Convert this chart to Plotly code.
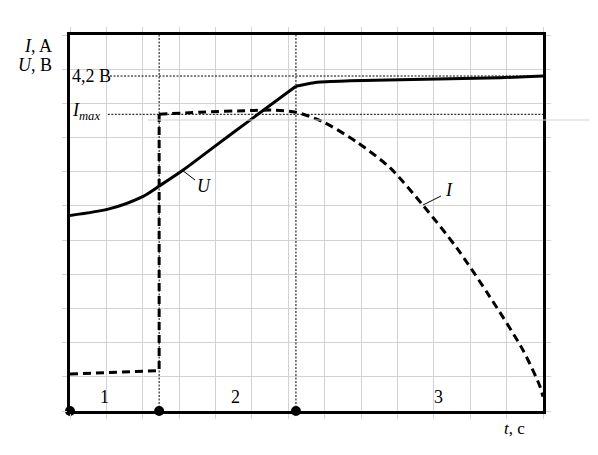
import plotly.graph_objects as go

# ---- data ----
t_U = [0.0, 1.10, 2.01, 2.45, 3.11, 3.85, 4.95, 6.21]
U_a = [5.72, 5.92, 6.28, 6.58, 7.05, 7.64, 8.51, 9.50]
t_U2 = [6.21, 6.79, 7.70, 9.07, 10.45, 11.82, 13.0]
U_b = [9.50, 9.62, 9.66, 9.69, 9.72, 9.75, 9.80]

t_I1 = [0.0, 2.45, 2.45]
I_1 = [1.08, 1.18, 8.68]
t_I2 = [2.45, 3.57, 4.95, 5.64, 6.21, 6.95, 7.88, 8.80, 9.70, 10.63, 11.54, 12.45, 12.92, 13.0]
I_2 = [8.68, 8.74, 8.79, 8.80, 8.74, 8.46, 7.87, 7.11, 6.02, 4.77, 3.34, 1.78, 0.71, 0.42]

t_events = [0.0, 2.45, 6.21]
phase_labels = ["1", "2", "3"]
phase_x = [0.96, 4.56, 10.14]
U_full = 9.80
I_max = 8.68

# ---- layout geometry (screen coordinates; page body adds an 8px offset) ----
W, H = 598, 455
OFF = 8
X0, X1 = 70, 543      # plot area left/right on screen
Y0, Y1 = 35, 411      # plot area top/bottom on screen
PW, PH = X1 - X0, Y1 - Y0
L, T = X0 - OFF, Y0 - OFF
R, B = W - L - PW, H - T - PH

def px(x):
    return (x - X0) / PW

def py(y):
    return (Y1 - y) / PH

SERIF = "Liberation Serif, Times New Roman, serif"
BLACK = "#000000"
GRID = "#d2d2d2"
DOT = "2px,1.5px"

fig = go.Figure()

fig.add_trace(go.Scatter(x=t_U, y=U_a, mode="lines", line=dict(color=BLACK, width=3, shape="spline", smoothing=0.8), hoverinfo="skip"))
fig.add_trace(go.Scatter(x=t_U2, y=U_b, mode="lines", line=dict(color=BLACK, width=3, shape="spline", smoothing=0.6), hoverinfo="skip"))
fig.add_trace(go.Scatter(x=t_I1, y=I_1, mode="lines", line=dict(color=BLACK, width=3, dash="8px,5px"), hoverinfo="skip"))
fig.add_trace(go.Scatter(x=t_I2, y=I_2, mode="lines", line=dict(color=BLACK, width=3, dash="8px,5px", shape="spline", smoothing=0.8), hoverinfo="skip"))
fig.add_trace(go.Scatter(x=t_events, y=[0] * len(t_events), mode="markers", marker=dict(color=BLACK, size=10), cliponaxis=False, hoverinfo="skip"))

shapes = []
for te in t_events[1:]:
    shapes.append(dict(type="line", xref="x", yref="y", x0=te, x1=te, y0=0, y1=11,
                       line=dict(color=BLACK, width=1, dash=DOT)))
shapes.append(dict(type="line", xref="x", yref="y", x0=1.10, x1=13, y0=U_full, y1=U_full,
                   line=dict(color=BLACK, width=1, dash=DOT)))
shapes.append(dict(type="line", xref="x", yref="y", x0=1.04, x1=13, y0=I_max, y1=I_max,
                   line=dict(color=BLACK, width=1, dash=DOT)))
# stray gray line in the reference
shapes.append(dict(type="line", xref="paper", yref="paper", x0=px(148), x1=px(600), y0=py(120), y1=py(120),
                   line=dict(color=GRID, width=1)))
# leader lines
shapes.append(dict(type="line", xref="paper", yref="paper", x0=px(182), x1=px(195), y0=py(170), y1=py(180),
                   line=dict(color=BLACK, width=1)))
shapes.append(dict(type="line", xref="paper", yref="paper", x0=px(423), x1=px(441), y0=py(205), y1=py(196),
                   line=dict(color=BLACK, width=1)))

ann = []
def txt(x, y, s, xanchor="center", size=18):
    ann.append(dict(xref="paper", yref="paper", x=px(x), y=py(y), text=s, showarrow=False,
                    xanchor=xanchor, yanchor="middle", font=dict(family=SERIF, size=size, color=BLACK)))

txt(54, 46, "<i>I</i>, A", xanchor="right")
txt(54, 65, "<i>U</i>, B", xanchor="right")
txt(70, 76, "4,2 B", xanchor="left")
txt(70, 111, "<i>I</i><sub><i>max</i></sub>", xanchor="left")
txt(204, 186, "<i>U</i>")
txt(449, 190, "<i>I</i>")
txt(514, 428, "<i>t</i>, c", size=17)
for lab, xp in zip(phase_labels, phase_x):
    ann.append(dict(xref="x", yref="paper", x=xp, y=py(397), text=lab, showarrow=False,
                    yanchor="middle", font=dict(family=SERIF, size=18, color=BLACK)))

axis_common = dict(showgrid=True, gridcolor=GRID, gridwidth=1, zeroline=False,
                   showline=True, linecolor=BLACK, linewidth=3, mirror="ticks",
                   ticks="outside", ticklen=5, tickcolor=GRID, tickwidth=1,
                   showticklabels=False, fixedrange=True)

fig.update_layout(
    width=W, height=H,
    margin=dict(l=L, r=R, t=T, b=B),
    paper_bgcolor="white", plot_bgcolor="white",
    showlegend=False,
    xaxis=dict(range=[0, 13], dtick=1, tick0=0, **axis_common),
    yaxis=dict(range=[0, 11], dtick=1, tick0=0, **axis_common),
    shapes=shapes,
    annotations=ann,
)

fig.write_html("out.html")
